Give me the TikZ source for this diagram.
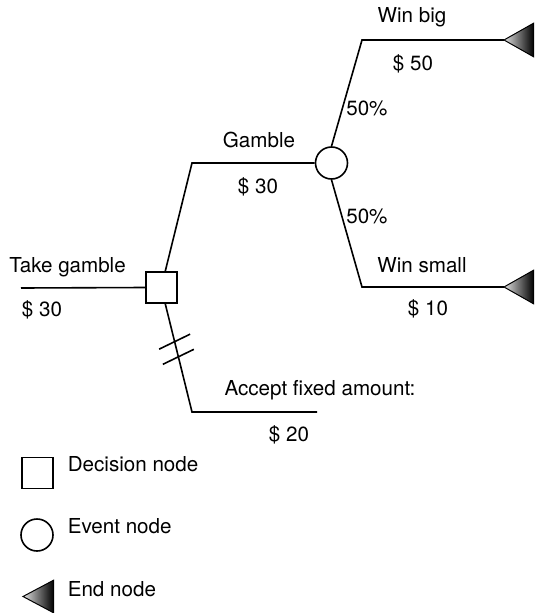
\documentclass[tikz,border=0pt]{standalone}
\usepackage{fontspec}
\setmainfont{TeX Gyre Heros}
\usetikzlibrary{positioning}

\begin{document}
\begin{tikzpicture}[
  x=1pt, y=-1pt,
  font=\fontsize{20.6}{24}\selectfont,
  line width=1.6pt,
  decbox/.style ={draw, rectangle, minimum size=31pt, inner sep=0pt},
  evtnode/.style={draw, circle, minimum size=32pt, inner sep=0pt},
  endnode/.style={rectangle, minimum width=28pt, minimum height=32pt,
                  inner sep=0pt, anchor=west},
  endfill/.style={draw=black, line width=1pt, line join=miter,
                  left color=black!12, right color=black},
  lab/.style    ={inner sep=0pt, anchor=base},
  leglab/.style ={inner sep=0pt, anchor=base west},
  branch/.style ={line width=1.6pt, draw=black},
]
\useasboundingbox (0,0) rectangle (535,613);

% tree
\node[decbox]  (dec)      at (161.5,287.5) {};
\node[evtnode] (evt)      at (331.5,163) {};
\node[endnode] (endbig)   at (504,40) {};
\node[endnode] (endsmall) at (504,287) {};

\coordinate (take)   at (21,288);
\coordinate (gamc)   at (192,163);
\coordinate (accc)   at (192,412);
\coordinate (acce)   at (317,412);
\coordinate (bigc)   at (362,40);
\coordinate (smallc) at (362,287);

\draw[branch] (take) -- (dec.west);
\draw[branch] (dec.77) -- (gamc) -- (evt.west);
\draw[branch] (dec.-77) -- coordinate[pos=0.35] (cut1)
                           coordinate[pos=0.49] (cut2) (accc) -- (acce);
\draw[branch] (evt.north) -- (bigc) -- (endbig.west);
\draw[branch] (evt.south) -- (smallc) -- (endsmall.west);

% end node triangles
\shade[endfill] (endbig.west) -- (endbig.north east) -- (endbig.south east) -- cycle;
\shade[endfill] (endsmall.west) -- (endsmall.north east) -- (endsmall.south east) -- cycle;

% blocked branch marks
\draw[branch] ([shift={(-15.5,7.5)}]cut1) -- ++(31,-15);
\draw[branch] ([shift={(-15.5,7.5)}]cut2) -- ++(31,-15);

% labels
\node[lab] (ltake)  at (67.5,272) {Take gamble};
\node[lab] (vtake)  at (42,316)   {\$ 30};
\node[lab] (lgam)   at (259,147)  {Gamble};
\node[lab] (vgam)   at (258,193)  {\$ 30};
\node[lab] (lbig)   at (412,23)   {Win big};
\node[lab] (vbig)   at (413,70)   {\$ 50};
\node[leglab] (pbig)   at (345.5,115) {50\%};
\node[leglab] (psmall) at (345.5,223) {50\%};
\node[lab] (lsmall) at (422,272)  {Win small};
\node[lab] (vsmall) at (428,315)  {\$ 10};
\node[lab] (lacc)   at (320,395)  {Accept fixed amount:};
\node[lab] (vacc)   at (289,441)  {\$ 20};

% legend
\node[decbox]  (legdec) at (37.5,473) {};
\node[evtnode] (legevt) at (37,535) {};
\node[endnode, minimum width=29pt, minimum height=31pt] (legend) at (23,596.5) {};
\shade[endfill] (legend.west) -- (legend.north east) -- (legend.south east) -- cycle;
\node[leglab] (tdec) at (67,471) {Decision node};
\node[leglab] (tevt) at (67,533) {Event node};
\node[leglab] (tend) at (67,596) {End node};

\end{tikzpicture}
\end{document}
